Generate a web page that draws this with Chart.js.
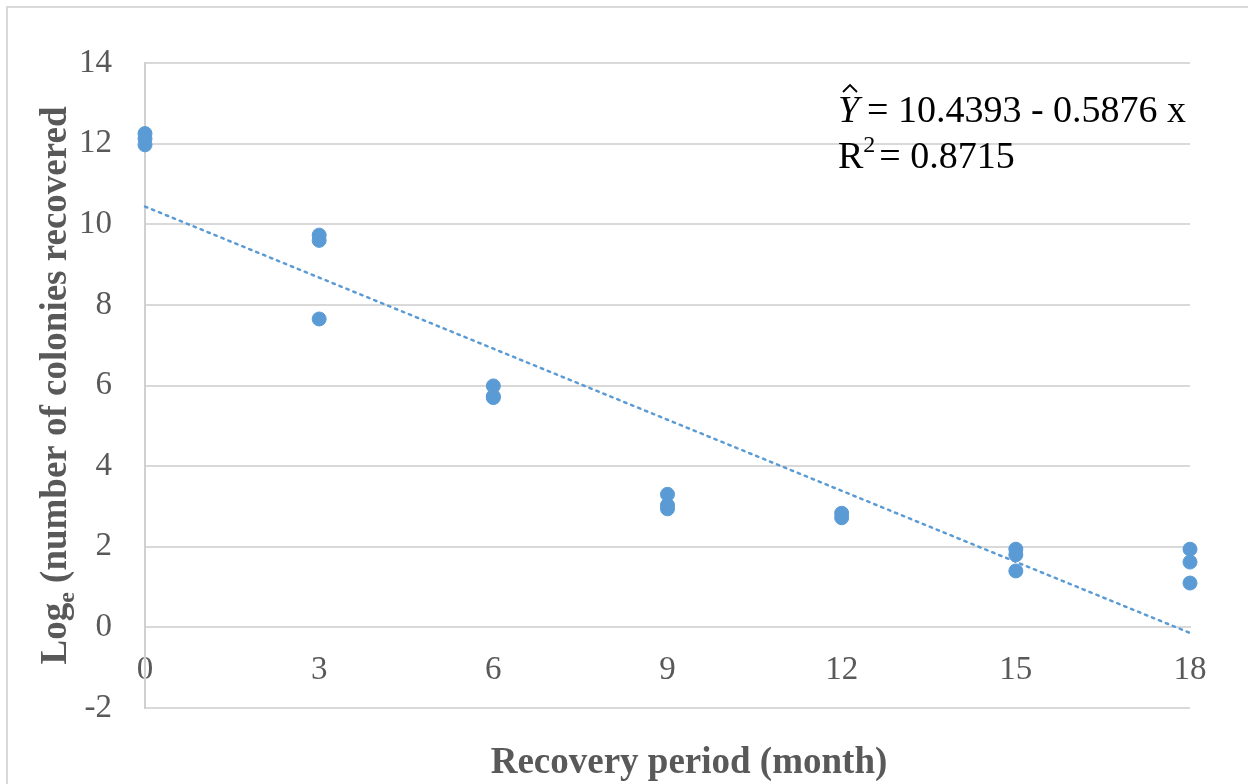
<!DOCTYPE html>
<html lang="en">
<head>
<meta charset="UTF-8">
<title>Recovery period</title>
<script src="https://cdn.jsdelivr.net/npm/chart.js@4/dist/chart.umd.min.js"></script>
<style>
    html, body { margin: 0; padding: 0; background: #fff; }
    #wrap { width: 1248px; height: 784px; position: relative; }
</style>
</head>
<body>
<div id="wrap"><canvas id="chart"></canvas></div>
<script>
    // observed points
    const monthX = [0, 0, 0, 3, 3, 3, 6, 6, 6, 9, 9, 9, 12, 12, 15, 15, 15, 18, 18, 18];
    const logColonies = [12.25, 12.12, 11.97, 9.73, 9.6, 7.65, 5.99, 5.73, 5.7, 3.3, 3.03, 2.94, 2.83, 2.72, 1.94, 1.8, 1.4, 1.94, 1.62, 1.1];
    // regression line
    const intercept = 10.4393;
    const slope = -0.5876;
    const trendX = [0, 18];
    const xTicks = [0, 3, 6, 9, 12, 15, 18];
    const yTicks = [-2, 0, 2, 4, 6, 8, 10, 12, 14];

    const blue = '#5B9BD5';
    const grey = '#595959';
    const serif = "'Liberation Serif', 'Times New Roman', serif";

    const textPlugin = {
        id: 'textPlugin',
        afterDraw(chart) {
            const ctx = chart.ctx;
            const a = chart.chartArea;
            ctx.save();
            // frame
            ctx.strokeStyle = '#d9d9d9';
            ctx.lineWidth = 2;
            ctx.beginPath();
            ctx.moveTo(7, 784);
            ctx.lineTo(7, 7);
            ctx.lineTo(1248, 7);
            ctx.stroke();

            ctx.fillStyle = grey;
            // x title
            ctx.font = 'bold 37px ' + serif;
            ctx.textAlign = 'center';
            ctx.textBaseline = 'alphabetic';
            ctx.fillText('Recovery period (month)', 689, 773);

            // y title with subscript e
            ctx.save();
            ctx.translate(66, (a.top + a.bottom) / 2);
            ctx.rotate(-Math.PI / 2);
            const p1 = 'Log', p2 = 'e', p3 = ' (number of colonies recovered';
            ctx.font = 'bold 37px ' + serif;
            const w1 = ctx.measureText(p1).width;
            const w3 = ctx.measureText(p3).width;
            ctx.font = 'bold 24px ' + serif;
            const w2 = ctx.measureText(p2).width;
            let x0 = -(w1 + w2 + w3) / 2;
            ctx.textAlign = 'left';
            ctx.font = 'bold 37px ' + serif;
            ctx.fillText(p1, x0, 0);
            ctx.font = 'bold 24px ' + serif;
            ctx.fillText(p2, x0 + w1, 8);
            ctx.font = 'bold 37px ' + serif;
            ctx.fillText(p3, x0 + w1 + w2, 0);
            ctx.restore();

            // equation
            ctx.fillStyle = '#000';
            ctx.textAlign = 'left';
            ctx.font = 'italic 38px ' + serif;
            ctx.fillText('Y', 838, 122);
            // hat over Y
            ctx.strokeStyle = '#000';
            ctx.lineWidth = 1.8;
            ctx.beginPath();
            ctx.moveTo(843, 92);
            ctx.lineTo(850, 85);
            ctx.lineTo(857, 92);
            ctx.stroke();
            ctx.font = '38px ' + serif;
            ctx.fillText('= 10.4393 - 0.5876 x', 867, 122);
            ctx.fillText('R', 838, 168);
            const rw = ctx.measureText('R').width;
            ctx.font = '24px ' + serif;
            ctx.fillText('2', 838 + rw, 152);
            const tw = ctx.measureText('2').width;
            ctx.font = '38px ' + serif;
            ctx.fillText('= 0.8715', 838 + rw + tw + 4, 168);
            ctx.restore();
        }
    };

    new Chart(document.getElementById('chart'), {
        type: 'scatter',
        data: {
            datasets: [
                {
                    label: 'Observed',
                    data: monthX.map((x, i) => ({ x: x, y: logColonies[i] })),
                    backgroundColor: blue,
                    borderColor: blue,
                    pointRadius: 7,
                    pointHoverRadius: 7,
                    clip: false
                },
                {
                    label: 'Linear trend',
                    type: 'line',
                    data: trendX.map(x => ({ x: x, y: intercept + slope * x })),
                    borderColor: blue,
                    borderWidth: 2.5,
                    borderDash: [2.5, 5],
                    borderCapStyle: 'round',
                    pointRadius: 0,
                    fill: false,
                    clip: false
                }
            ]
        },
        options: {
            responsive: true,
            maintainAspectRatio: false,
            animation: false,
            layout: { padding: { left: 0, right: 58, top: 63, bottom: 76 } },
            plugins: {
                legend: { display: false },
                tooltip: { enabled: false }
            },
            scales: {
                x: {
                    type: 'linear',
                    position: { y: 0 },
                    min: 0,
                    max: 18,
                    afterBuildTicks: s => { s.ticks = xTicks.map(v => ({ value: v })); },
                    grid: { display: false, drawTicks: false },
                    border: { display: true, color: '#d9d9d9', width: 2 },
                    ticks: { color: grey, font: { family: serif, size: 33 }, padding: 23 }
                },
                y: {
                    type: 'linear',
                    min: -2,
                    max: 14,
                    afterBuildTicks: s => { s.ticks = yTicks.map(v => ({ value: v })); },
                    afterFit: s => { s.width = 145; },
                    grid: { color: '#d9d9d9', lineWidth: 2, drawTicks: false },
                    border: { display: true, color: '#d0d0d0', width: 2 },
                    ticks: { color: grey, font: { family: serif, size: 33 }, padding: 33 }
                }
            }
        },
        plugins: [textPlugin]
    });
</script>
</body>
</html>
